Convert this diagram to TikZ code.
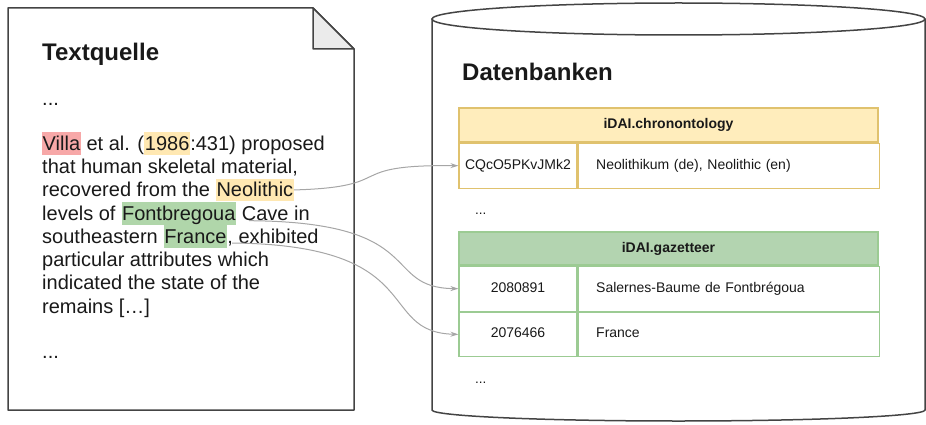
\documentclass[tikz,border=0pt]{standalone}
\usepackage{fontspec}
\setmainfont{Liberation Sans}
\usetikzlibrary{positioning,arrows.meta,calc}

\definecolor{hlred}{HTML}{F7A8A8}
\definecolor{hlyellow}{HTML}{FFE8B2}
\definecolor{hlgreen}{HTML}{B0D6AA}
\definecolor{chrofill}{HTML}{FFEDBC}
\definecolor{chroline}{HTML}{E0C26E}
\definecolor{gazfill}{HTML}{B3D4B0}
\definecolor{gazline}{HTML}{9CCB93}
\definecolor{shapeline}{HTML}{444444}
\definecolor{linkgray}{HTML}{A6A6A6}

\begin{document}
\begin{tikzpicture}[x = 1pt, y = -1pt]
		\tikzstyle{every node} = [inner sep = 0pt, text = black!90, font = \fontsize{20}{23}\selectfont]
		\tikzstyle{txt} = [anchor = base west]
		\tikzstyle{hl} = [txt, inner xsep = .5pt, text height = 18pt, text depth = 4.5pt]
		\tikzstyle{big} = [txt, font = \bfseries\fontsize{24}{28}\selectfont]
		\tikzstyle{cell} = [draw, line width = 1.2pt, minimum height = 45pt, font = \fontsize{14}{16}\selectfont, text height = 10pt, text depth = 3pt]
		\tikzstyle{namecell} = [cell, anchor = north west, text width = 265pt, inner xsep = 18pt, align = left]
		\tikzstyle{head} = [cell, minimum width = 419pt, minimum height = 34pt, font = \bfseries\fontsize{14}{16}\selectfont]
		\tikzstyle{link} = [draw = linkgray, line width = 1pt, -{Stealth[length = 8pt, width = 5pt]}]
		\useasboundingbox (0,0) rectangle (926,425);

		% Textquelle (document)
		\draw [shapeline, line width = 1.5pt, line join = round] (8,8) -- (313,8) -- (354,49) -- (354,410) -- (8,410) -- cycle;
		\filldraw [draw = shapeline, fill = black!8, line width = 1.5pt, line join = round] (313,8) -- (313,49) -- (354,49) -- cycle;

		\node [big] (textquelle) at (42,61) {Textquelle};
		\node [txt] (dotsa) at (42,106) {...};

		\node [hl, fill = hlred] (villa) at (42,150) {Villa};
		\node [base right = 0pt of villa] (l1a) {\ et al. (};
		\node [hl, fill = hlyellow, base right = 0pt of l1a] (year) {1986};
		\node [base right = 0pt of year] (l1b) {:431) proposed};

		\node [txt] (l3) at (42,196.7) {recovered from the};
		\node [hl, fill = hlyellow, base right = 5.56pt of l3] (neo) {Neolithic};

		\node [txt] (l4) at (42,220) {levels of};
		\node [hl, fill = hlgreen, base right = 5.56pt of l4] (fontb) {Fontbregoua};
		\node [base right = 0pt of fontb] (l4b) {\ Cave in};

		\node [txt] (l5) at (42,243.3) {southeastern};
		\node [hl, fill = hlgreen, base right = 5.56pt of l5] (france) {France};
		\node [base right = 0pt of france] (l5b) {, exhibited};

		\foreach \n/\t in {2/{that human skeletal material,}, 6/{particular attributes which}, 7/{indicated the state of the}, 8/{remains […]}}
		{
			\node [txt] (line\n) at (42,{150 + 23.33*(\n - 1)}) {\t};
		}
		\node [txt] (dotsb) at (42,358) {...};

		% Datenbanken (cylinder)
		\draw [shapeline, line width = 1.5pt] (432,19) -- (432,410) arc [start angle = 180, end angle = 0, x radius = 246.5, y radius = 11] -- (925,19);
		\draw [shapeline, line width = 1.5pt, fill = white] (678.5,19) ellipse [x radius = 246.5, y radius = 16];

		\node [big] (datenbanken) at (462,81) {Datenbanken};

		% iDAI.chronontology
		\node [head, fill = chrofill, draw = chroline] (chrono) at (668.5,125) {iDAI.chronontology};
		\node [cell, draw = chroline, minimum width = 118pt, anchor = north west] (cqid) at (chrono.south west) {CQcO5PKvJMk2};
		\node [namecell, draw = chroline] (neoname) at (cqid.north east) {Neolithikum (de), Neolithic (en)};
		\node [txt, font = \fontsize{13.5}{16}\selectfont] (dotsc) at (475,214) {...};

		% iDAI.gazetteer
		\node [head, fill = gazfill, draw = gazline, minimum height = 33pt] (gaz) at (668.5,248.5) {iDAI.gazetteer};
		\node [cell, draw = gazline, minimum width = 118pt, anchor = north west] (fontbid) at (gaz.south west) {2080891};
		\node [namecell, draw = gazline] (fontbname) at (fontbid.north east) {Salernes-Baume de Fontbrégoua};
		\node [cell, draw = gazline, minimum width = 118pt, minimum height = 44pt, anchor = north west] (franceid) at (fontbid.south west) {2076466};
		\node [namecell, draw = gazline, minimum height = 44pt] (francename) at (franceid.north east) {France};
		\node [txt, font = \fontsize{13.5}{16}\selectfont] (dotsd) at (475,383) {...};

		% links
		\coordinate (fontbout) at ($(fontb.south east) + (13,-4)$);
		\coordinate (franceout) at ($(france.south east) + (5,-5)$);
		\draw [link] (neo.east) .. controls (400,187) and (340,164.5) .. (cqid.west);
		\draw [link] (fontbout) .. controls (430,222) and (380,287.5) .. (fontbid.west);
		\draw [link] (franceout) .. controls (430,245) and (375,332) .. (franceid.west);
	\end{tikzpicture}
\end{document}
